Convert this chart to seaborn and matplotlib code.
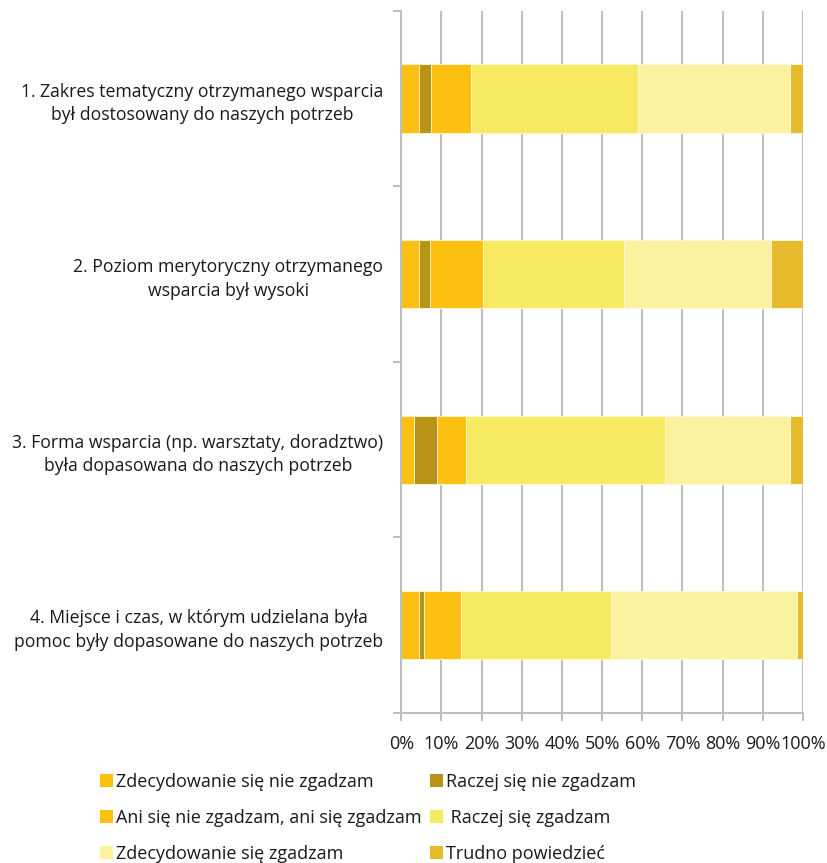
import matplotlib
matplotlib.use("Agg")
import matplotlib.pyplot as plt
from matplotlib.patches import Patch
from matplotlib.ticker import FixedLocator, PercentFormatter
import seaborn as sns
import pandas as pd
import numpy as np

# Survey statements (y axis categories)
statements = [
    "1. Zakres tematyczny otrzymanego wsparcia\nbył dostosowany do naszych potrzeb",
    "2. Poziom merytoryczny otrzymanego\nwsparcia był wysoki",
    "3. Forma wsparcia (np. warsztaty, doradztwo)\nbyła dopasowana do naszych potrzeb",
    "4. Miejsce i czas, w którym udzielana była\npomoc były dopasowane do naszych potrzeb",
]

# Answer categories and their shares (%) for each statement
answers = [
    "Zdecydowanie się nie zgadzam",
    "Raczej się nie zgadzam",
    "Ani się nie zgadzam, ani się zgadzam",
    " Raczej się zgadzam",
    "Zdecydowanie się zgadzam",
    "Trudno powiedzieć",
]
zdecydowanie_nie = [4.3, 4.3, 3.1, 4.3]
raczej_nie = [3.0, 2.8, 5.7, 1.3]
ani_ani = [10.0, 13.3, 7.2, 9.2]
raczej_tak = [41.7, 35.0, 49.7, 37.4]
zdecydowanie_tak = [37.7, 36.6, 31.1, 46.4]
trudno = [3.3, 8.0, 3.2, 1.4]

colors = ["#FCC010", "#B89318", "#FCC010", "#F7E961", "#FAF29E", "#E6BC2E"]

series = [zdecydowanie_nie, raczej_nie, ani_ani, raczej_tak, zdecydowanie_tak, trudno]

rows = []
for ans, vals in zip(answers, series):
    for st, v in zip(statements, vals):
        rows.append({"statement": st, "answer": ans, "value": v})
df = pd.DataFrame(rows)
df["answer"] = pd.Categorical(df["answer"], categories=answers, ordered=True)
df["statement"] = pd.Categorical(df["statement"], categories=statements, ordered=True)
df = df.sort_values(["statement", "answer"])
df["cum"] = df.groupby("statement", observed=True)["value"].cumsum()

sns.set_style("white")
plt.rcParams["font.family"] = ["Open Sans", "DejaVu Sans"]
plt.rcParams["text.color"] = "#1a1a1a"
plt.rcParams["xtick.color"] = "#1a1a1a"
plt.rcParams["ytick.color"] = "#1a1a1a"

fig = plt.figure(figsize=(8.28, 8.63), dpi=100)
ax = fig.add_axes([0.4847, 0.1738, 0.4851, 0.8135])

# Stacked bars: draw cumulative totals from the last answer backwards
for ans, col in reversed(list(zip(answers, colors))):
    sub = df[df["answer"] == ans]
    sns.barplot(data=sub, x="cum", y="statement", order=statements,
                color=col, orient="h", width=0.39, errorbar=None,
                edgecolor="#fffbe0", linewidth=0.6, saturation=1, ax=ax)

grid_col = "#BDBDBD"
ax.set_xlim(0, 100)
ax.set_ylim(3.5, -0.5)
ax.set_axisbelow(True)
ax.xaxis.set_major_locator(FixedLocator(np.arange(0, 101, 10)))
ax.xaxis.set_major_formatter(PercentFormatter(decimals=0))
ax.xaxis.grid(True, color=grid_col, linewidth=1.4)
ax.yaxis.grid(False)
ax.yaxis.set_minor_locator(FixedLocator(np.arange(-0.5, 3.6, 1.0)))
ax.tick_params(axis="x", which="major", direction="out", length=6, width=1.4,
               color=grid_col, labelsize=13, pad=10, bottom=True)
ax.tick_params(axis="y", which="major", length=0, labelsize=12.7, pad=13)
ax.tick_params(axis="y", which="minor", direction="out", length=6, width=1.4,
               color=grid_col, left=True)
for lbl in ax.get_yticklabels():
    lbl.set_multialignment("center")
    lbl.set_linespacing(1.4)
ax.set_xlabel("")
ax.set_ylabel("")
for side in ["top", "right"]:
    ax.spines[side].set_visible(False)
for side in ["left", "bottom"]:
    ax.spines[side].set_color(grid_col)
    ax.spines[side].set_linewidth(1.4)

# Legend: two columns, filled row by row
order = [0, 2, 4, 1, 3, 5]
handles = [Patch(facecolor=colors[i], edgecolor="none") for i in order]
labels = [answers[i] for i in order]
fig.legend(handles, labels, loc="upper left", bbox_to_anchor=(100 / 828, 1 - 773 / 863),
           ncol=2, frameon=False, fontsize=13, handlelength=0.7, handleheight=0.7,
           handletextpad=0.2, columnspacing=0.45, labelspacing=1.0, borderpad=0,
           borderaxespad=0)

fig.savefig("out.png", dpi=100)
